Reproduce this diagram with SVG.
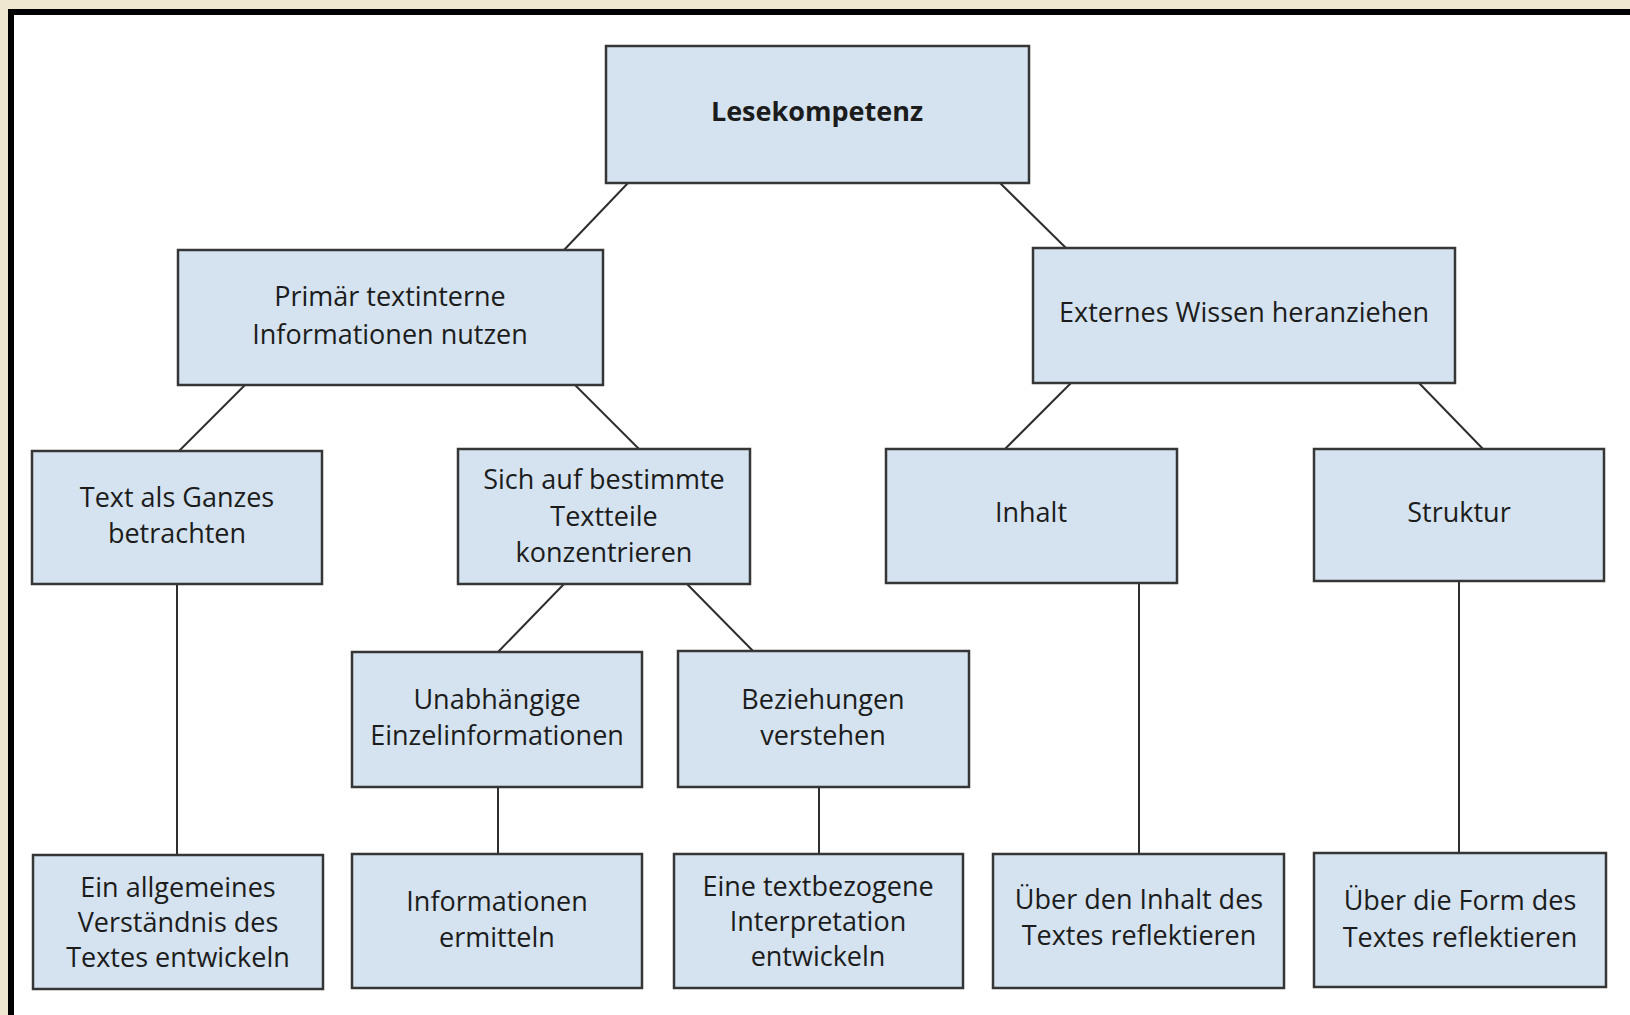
<svg xmlns="http://www.w3.org/2000/svg" width="1630" height="1015" viewBox="0 0 1630 1015">
<style>
.box{fill:#d4e3ef;stroke:#363636;stroke-width:2.5}
.t{font-family:"Open Sans","Liberation Sans",sans-serif;font-size:27px;fill:#1c1c1c;text-anchor:middle}
.b{font-weight:bold}
.c line{stroke:#2e2e2e;stroke-width:2}
</style>
<rect x="0" y="0" width="1630" height="1015" fill="#efe8cf"/>
<rect x="8" y="9" width="1622" height="1006" fill="#000"/>
<rect x="14" y="15" width="1616" height="1000" fill="#fff"/>
<g class="c">
<line x1="628" y1="183" x2="564" y2="250"/>
<line x1="1000" y1="183" x2="1066" y2="248"/>
<line x1="245" y1="385" x2="179" y2="451"/>
<line x1="575" y1="385" x2="639" y2="449"/>
<line x1="1071" y1="383" x2="1005" y2="449"/>
<line x1="1419" y1="383" x2="1483" y2="449"/>
<line x1="177" y1="584" x2="177" y2="855"/>
<line x1="564" y1="584" x2="498" y2="652"/>
<line x1="687" y1="584" x2="753" y2="651"/>
<line x1="498" y1="787" x2="498" y2="854"/>
<line x1="819" y1="787" x2="819" y2="854"/>
<line x1="1139" y1="583" x2="1139" y2="854"/>
<line x1="1459" y1="581" x2="1459" y2="853"/>
</g>
<g id="lesekompetenz"><rect class="box" x="606" y="46" width="423" height="137"/><text class="t b" x="817" y="121">Lesekompetenz</text></g>
<g id="primaer"><rect class="box" x="178" y="250" width="425" height="135"/><text class="t" x="390" y="306">Primär textinterne</text><text class="t" x="390" y="344">Informationen nutzen</text></g>
<g id="extern"><rect class="box" x="1033" y="248" width="422" height="135"/><text class="t" x="1244" y="322">Externes Wissen heranziehen</text></g>
<g id="ganzes"><rect class="box" x="32" y="451" width="290" height="133"/><text class="t" x="177" y="507">Text als Ganzes</text><text class="t" x="177" y="543">betrachten</text></g>
<g id="textteile"><rect class="box" x="458" y="449" width="292" height="135"/><text class="t" x="604" y="489">Sich auf bestimmte</text><text class="t" x="604" y="526">Textteile</text><text class="t" x="604" y="562">konzentrieren</text></g>
<g id="inhalt"><rect class="box" x="886" y="449" width="291" height="134"/><text class="t" x="1031" y="522">Inhalt</text></g>
<g id="struktur"><rect class="box" x="1314" y="449" width="290" height="132"/><text class="t" x="1459" y="522">Struktur</text></g>
<g id="unabhaengige"><rect class="box" x="352" y="652" width="290" height="135"/><text class="t" x="497" y="709">Unabhängige</text><text class="t" x="497" y="745">Einzelinformationen</text></g>
<g id="beziehungen"><rect class="box" x="678" y="651" width="291" height="136"/><text class="t" x="823" y="709">Beziehungen</text><text class="t" x="823" y="745">verstehen</text></g>
<g id="verstaendnis"><rect class="box" x="33" y="855" width="290" height="134"/><text class="t" x="178" y="897">Ein allgemeines</text><text class="t" x="178" y="932">Verständnis des</text><text class="t" x="178" y="967">Textes entwickeln</text></g>
<g id="ermitteln"><rect class="box" x="352" y="854" width="290" height="134"/><text class="t" x="497" y="911">Informationen</text><text class="t" x="497" y="947">ermitteln</text></g>
<g id="interpretation"><rect class="box" x="674" y="854" width="289" height="134"/><text class="t" x="818" y="896">Eine textbezogene</text><text class="t" x="818" y="931">Interpretation</text><text class="t" x="818" y="966">entwickeln</text></g>
<g id="reflektInhalt"><rect class="box" x="993" y="854" width="291" height="134"/><text class="t" x="1139" y="909">Über den Inhalt des</text><text class="t" x="1139" y="945">Textes reflektieren</text></g>
<g id="reflektForm"><rect class="box" x="1314" y="853" width="292" height="134"/><text class="t" x="1460" y="910">Über die Form des</text><text class="t" x="1460" y="947">Textes reflektieren</text></g>
</svg>
